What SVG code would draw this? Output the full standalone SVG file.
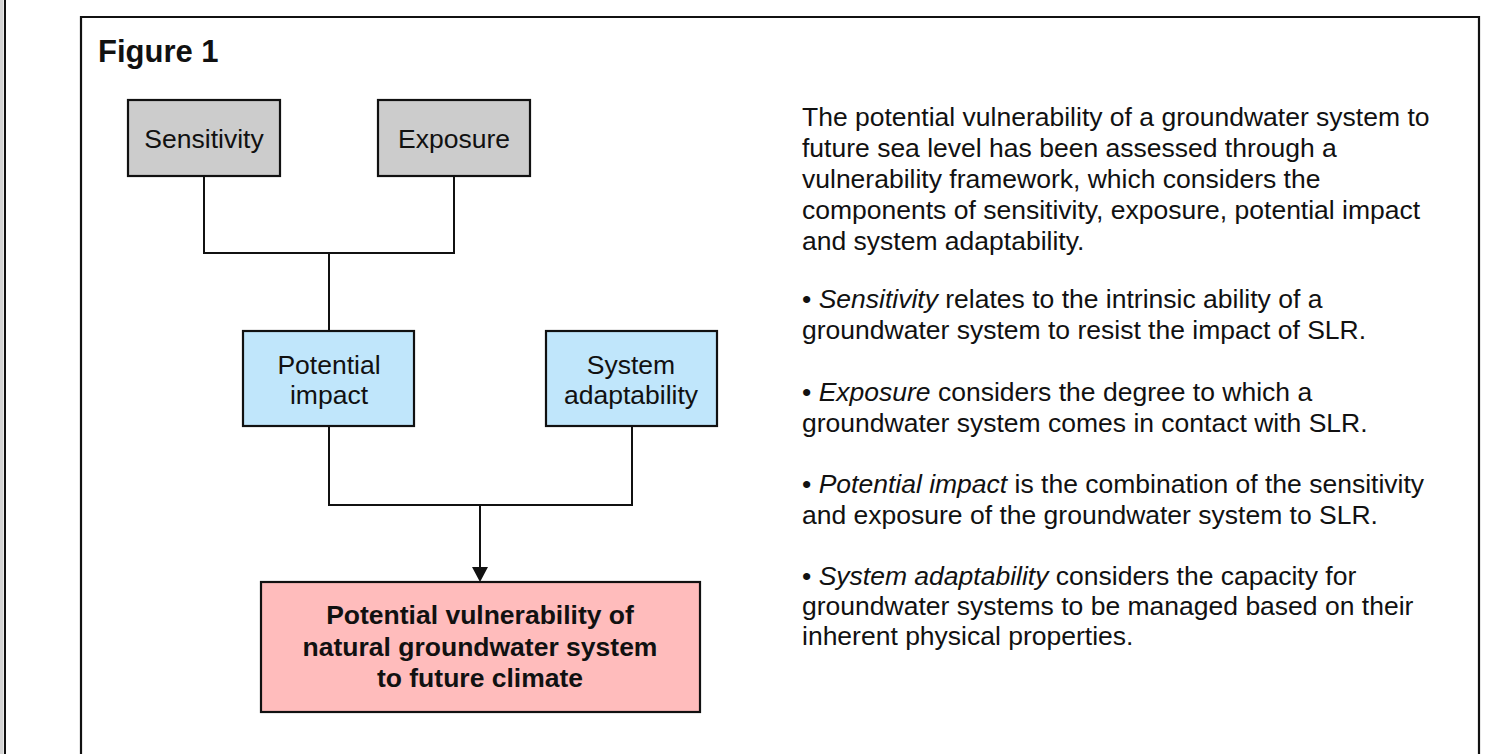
<svg xmlns="http://www.w3.org/2000/svg" width="1495" height="754" viewBox="0 0 1495 754">
<defs>
<style>
.box{stroke:#111;stroke-width:2.2}
.lbl{font-family:"Liberation Sans",Arial,sans-serif;font-size:26.5px;fill:#111;text-anchor:middle}
.big{font-family:"Liberation Sans",Arial,sans-serif;font-size:26.5px;font-weight:bold;fill:#111;text-anchor:middle}
.body{font-family:"Liberation Sans",Arial,sans-serif;font-size:26.5px;fill:#111}
.conn{fill:none;stroke:#111;stroke-width:2}
</style>
</defs>
<rect x="0" y="0" width="1495" height="754" fill="#fff"/>
<rect x="0" y="0" width="3.5" height="754" fill="#d4d4d4"/>
<line x1="5" y1="0" x2="5" y2="754" stroke="#111" stroke-width="2"/>
<path d="M81,754 V17 H1479 V754" fill="none" stroke="#111" stroke-width="2.2"/>
<text x="98" y="62" font-family="'Liberation Sans',Arial,sans-serif" font-size="31" font-weight="bold" fill="#111">Figure 1</text>

<g id="connectors">
<path class="conn" d="M204,176 V253 H454 V176"/>
<path class="conn" d="M329,253 V331"/>
<path class="conn" d="M329,426 V505 H632 V426"/>
<path class="conn" d="M480,505 V567"/>
<path d="M472,567 L488,567 L480,582 z" fill="#111"/>
</g>

<g id="sensitivity">
<rect class="box" x="128" y="100" width="152" height="76" fill="#cccccc"/>
<text class="lbl" x="204" y="148">Sensitivity</text>
</g>
<g id="exposure">
<rect class="box" x="378" y="100" width="152" height="76" fill="#cccccc"/>
<text class="lbl" x="454" y="148">Exposure</text>
</g>
<g id="potential-impact">
<rect class="box" x="243" y="331" width="171" height="95" fill="#c0e6fb"/>
<text class="lbl" x="329" y="374">Potential</text>
<text class="lbl" x="329" y="404">impact</text>
</g>
<g id="system-adaptability">
<rect class="box" x="546" y="331" width="171" height="95" fill="#c0e6fb"/>
<text class="lbl" x="631" y="374">System</text>
<text class="lbl" x="631" y="404">adaptability</text>
</g>
<g id="vulnerability">
<rect class="box" x="261" y="582" width="439" height="130" fill="#ffbcbc"/>
<text class="big" x="480" y="624">Potential vulnerability of</text>
<text class="big" x="480" y="656">natural groundwater system</text>
<text class="big" x="480" y="687">to future climate</text>
</g>

<g id="description" class="body">
<text x="802" y="126">The potential vulnerability of a groundwater system to</text>
<text x="802" y="157">future sea level has been assessed through a</text>
<text x="802" y="188">vulnerability framework, which considers the</text>
<text x="802" y="219">components of sensitivity, exposure, potential impact</text>
<text x="802" y="250">and system adaptability.</text>
<text x="802" y="308">• <tspan font-style="italic">Sensitivity</tspan> relates to the intrinsic ability of a</text>
<text x="802" y="339">groundwater system to resist the impact of SLR.</text>
<text x="802" y="401">• <tspan font-style="italic">Exposure</tspan> considers the degree to which a</text>
<text x="802" y="432">groundwater system comes in contact with SLR.</text>
<text x="802" y="493">• <tspan font-style="italic">Potential impact</tspan> is the combination of the sensitivity</text>
<text x="802" y="524">and exposure of the groundwater system to SLR.</text>
<text x="802" y="585">• <tspan font-style="italic">System adaptability</tspan> considers the capacity for</text>
<text x="802" y="615">groundwater systems to be managed based on their</text>
<text x="802" y="645">inherent physical properties.</text>
</g>
</svg>
